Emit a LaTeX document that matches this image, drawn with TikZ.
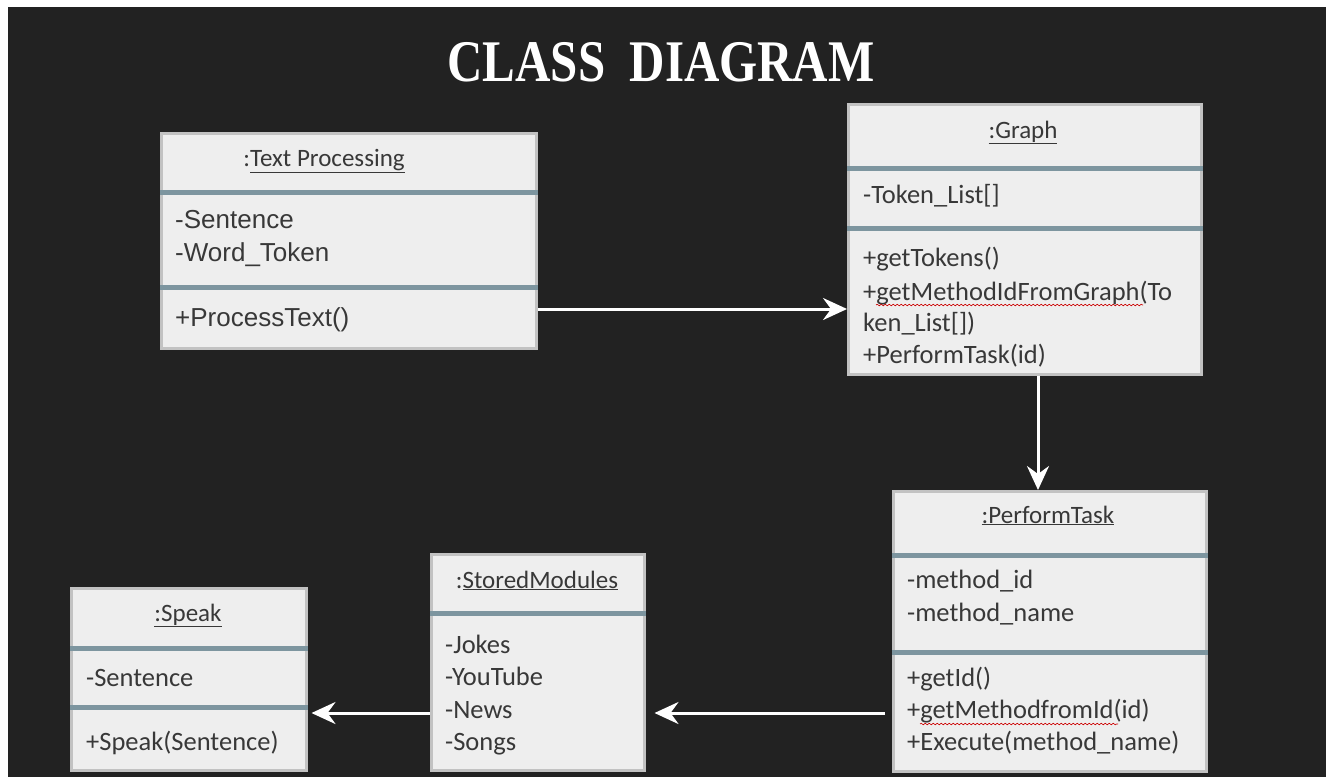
\documentclass[tikz,border=0pt]{standalone}
\usepackage{fontspec}
\setmainfont{Carlito}
\newfontfamily\arialf{Liberation Sans}
\newfontfamily\titlef{Liberation Serif}
\usetikzlibrary{arrows.meta,decorations.pathmorphing}
\definecolor{bg}{HTML}{222222}
\definecolor{boxfill}{HTML}{EEEEEE}
\definecolor{boxline}{HTML}{C2C2C2}
\definecolor{sepc}{HTML}{7D959F}
\definecolor{txt}{HTML}{383838}
\begin{document}
\begin{tikzpicture}[x=1pt,y=-1pt,
  cls/.style={draw=boxline, line width=2.5pt, fill=boxfill, anchor=north west, inner sep=0pt},
  sep/.style={draw=sepc, line width=5pt},
  ln/.style={anchor=base west, inner sep=0pt, text=txt, font=\fontsize{26.5}{30}\selectfont},
  lna/.style={anchor=base west, inner sep=0pt, text=txt, font=\arialf\fontsize{26}{30}\selectfont},
  ttl/.style={anchor=base, inner sep=0pt, text=txt, font=\fontsize{25}{30}\selectfont},
  arr/.style={draw=white, line width=3pt, -{Stealth[length=24pt,width=22pt,inset=8pt]}},
  spell/.style={draw=red!80!black, line width=0.6pt, decorate, decoration={snake, amplitude=0.8pt, segment length=4pt}}]
\useasboundingbox (0,0) rectangle (1330,777);
\fill[white] (0,0) rectangle (1330,777);
\fill[bg] (8,7) rectangle (1326,777);

% title
\node[inner sep=0pt, text=white] (title) at (661,62) {\titlef\bfseries\fontsize{59}{62}\selectfont\scalebox{0.83}[1]{CLASS\ \ DIAGRAM}};

% Text Processing
\node[cls, minimum width=375pt, minimum height=215pt] (tp) at (160,132) {};
\draw[sep] (tp.west |- 0,192) -- (tp.east |- 0,192);
\draw[sep] (tp.west |- 0,287) -- (tp.east |- 0,287);
\node[ttl] (tpt) at (324,166) {:\underline{Text Processing}};
\node[lna] (tpa1) at (175,228) {-Sentence};
\node[lna] (tpa2) at (175,261) {-Word\_Token};
\node[lna] (tpm1) at (175,326) {+ProcessText()};

% Graph
\node[cls, minimum width=353pt, minimum height=270pt] (graph) at (847,103) {};
\draw[sep] (graph.west |- 0,168) -- (graph.east |- 0,168);
\draw[sep] (graph.west |- 0,228) -- (graph.east |- 0,228);
\node[ttl] (grt) at (1023,138) {\underline{:Graph}};
\node[ln] (gra1) at (863,203) {-Token\_List[]};
\node[ln] (grm1) at (863,266) {+getTokens()};
\node[ln] (grm2) at (863,300) {+getMethodIdFromGraph(To};
\node[ln] (grm3) at (863,331) {ken\_List[])};
\node[ln] (grm4) at (863,363) {+PerformTask(id)};
\draw[spell] (876,305) -- (1143,305);

% PerformTask
\node[cls, minimum width=313pt, minimum height=280pt] (pt) at (892,490) {};
\draw[sep] (pt.west |- 0,555) -- (pt.east |- 0,555);
\draw[sep] (pt.west |- 0,652) -- (pt.east |- 0,652);
\node[ttl] (ptt) at (1048,523) {\underline{:PerformTask}};
\node[ln] (pta1) at (907,588) {-method\_id};
\node[ln] (pta2) at (907,621) {-method\_name};
\node[ln] (ptm1) at (907,686) {+getId()};
\node[ln] (ptm2) at (907,718) {+getMethodfromId(id)};
\node[ln] (ptm3) at (907,750) {+Execute(method\_name)};
\draw[spell] (920,724) -- (1118,724);

% StoredModules
\node[cls, minimum width=213pt, minimum height=216pt] (sm) at (430,553) {};
\draw[sep] (sm.west |- 0,613) -- (sm.east |- 0,613);
\node[ttl] (smt) at (537,588) {:\underline{StoredModules}};
\node[ln] (sma1) at (445,653) {-Jokes};
\node[ln] (sma2) at (445,685) {-YouTube};
\node[ln] (sma3) at (445,718) {-News};
\node[ln] (sma4) at (445,750) {-Songs};

% Speak
\node[cls, minimum width=235pt, minimum height=182pt] (sp) at (70,587) {};
\draw[sep] (sp.west |- 0,648) -- (sp.east |- 0,648);
\draw[sep] (sp.west |- 0,707) -- (sp.east |- 0,707);
\node[ttl] (spt) at (188,621) {\underline{:Speak}};
\node[ln] (spa1) at (86,686) {-Sentence};
\node[ln] (spm1) at (86,750) {+Speak(Sentence)};

% connectors
\draw[arr] (tp.east |- 0,309) -- (graph.west |- 0,309);
\draw[arr] (graph.south -| 1038,0) -- (pt.north -| 1038,0);
\draw[arr, shorten <=7pt, shorten >=9pt] (pt.west |- 0,713) -- (sm.east |- 0,713);
\draw[arr, shorten >=4pt] (sm.west |- 0,713) -- (sp.east |- 0,713);
\end{tikzpicture}
\end{document}
